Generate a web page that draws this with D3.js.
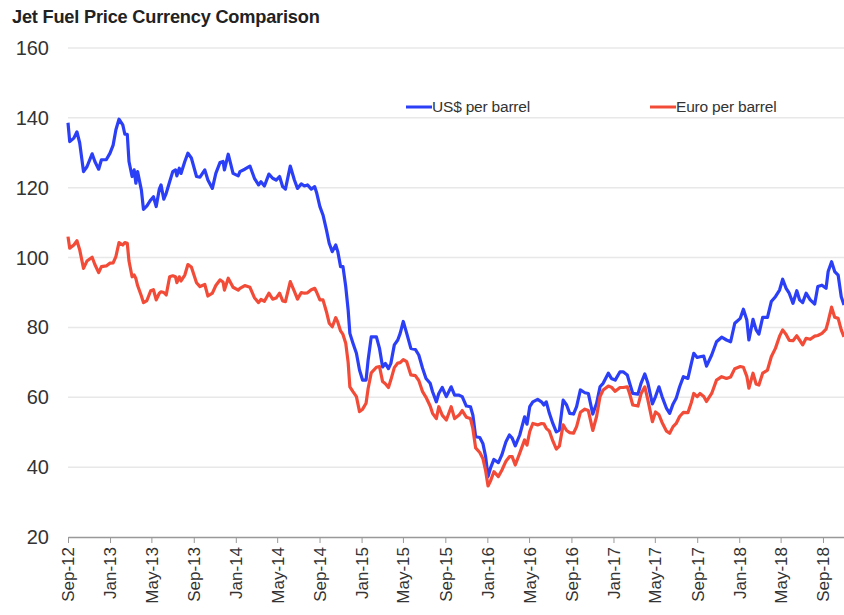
<!DOCTYPE html>
<html><head><meta charset="utf-8">
<script src="https://cdn.jsdelivr.net/npm/d3@7"></script>
<style>
body{margin:0;background:#fff;}
svg{display:block;font-family:"Liberation Sans",Arial,sans-serif;}
</style></head>
<body><svg id="chart" width="844" height="615"></svg>
<script>
const title = "Jet Fuel Price Currency Comparison";
const seriesNames = ["US$ per barrel", "Euro per barrel"];
const yTicks = [20, 40, 60, 80, 100, 120, 140, 160];
const dates = [
"2012-09-01","2012-09-06","2012-09-18","2012-09-27","2012-10-05","2012-10-16","2012-10-26","2012-11-10","2012-11-18","2012-11-29",
"2012-12-07","2012-12-21","2013-01-01","2013-01-10","2013-01-18","2013-01-27","2013-02-07","2013-02-13","2013-02-20","2013-02-25",
"2013-03-06","2013-03-12","2013-03-17","2013-03-22","2013-04-02","2013-04-08","2013-04-18","2013-04-29","2013-05-07","2013-05-15",
"2013-05-24","2013-05-29","2013-06-06","2013-06-13","2013-06-23","2013-07-02","2013-07-10","2013-07-14","2013-07-21","2013-07-26",
"2013-08-06","2013-08-15","2013-08-25","2013-09-09","2013-09-19","2013-10-03","2013-10-12","2013-10-25","2013-11-04","2013-11-16",
"2013-11-25","2013-11-29","2013-12-10","2013-12-24","2014-01-08","2014-01-13","2014-01-27","2014-02-11","2014-02-24","2014-03-08",
"2014-03-15","2014-03-25","2014-04-07","2014-04-18","2014-04-28","2014-05-08","2014-05-17","2014-05-25","2014-06-08","2014-06-20",
"2014-06-29","2014-07-10","2014-07-19","2014-07-28","2014-08-08","2014-08-18","2014-08-24","2014-09-02","2014-09-11","2014-09-21",
"2014-09-29","2014-10-08","2014-10-18","2014-10-24","2014-11-01","2014-11-08","2014-11-16","2014-11-23","2014-11-28","2014-12-07",
"2014-12-17","2014-12-26","2015-01-04","2015-01-14","2015-01-20","2015-01-29","2015-02-13","2015-02-22","2015-03-03","2015-03-11",
"2015-03-20","2015-03-27","2015-04-06","2015-04-16","2015-04-23","2015-05-02","2015-05-12","2015-05-24","2015-06-06","2015-06-16",
"2015-06-27","2015-07-07","2015-07-19","2015-07-26","2015-08-06","2015-08-13","2015-08-23","2015-09-04","2015-09-18","2015-09-28",
"2015-10-11","2015-10-20","2015-11-01","2015-11-13","2015-11-20","2015-11-28","2015-12-10","2015-12-19","2015-12-27","2016-01-03",
"2016-01-10","2016-01-20","2016-02-02","2016-02-12","2016-02-24","2016-03-05","2016-03-13","2016-03-22","2016-04-04","2016-04-18",
"2016-04-25","2016-05-03","2016-05-12","2016-05-26","2016-06-06","2016-06-13","2016-06-20","2016-06-29","2016-07-09","2016-07-19",
"2016-07-28","2016-08-08","2016-08-18","2016-08-27","2016-09-07","2016-09-16","2016-09-27","2016-10-10","2016-10-20","2016-11-02",
"2016-11-13","2016-11-23","2016-12-02","2016-12-17","2016-12-26","2017-01-06","2017-01-20","2017-01-29","2017-02-10","2017-02-17",
"2017-02-26","2017-03-13","2017-03-22","2017-04-02","2017-04-11","2017-04-24","2017-05-03","2017-05-13","2017-05-22","2017-06-04",
"2017-06-13","2017-06-23","2017-07-02","2017-07-12","2017-07-23","2017-08-05","2017-08-15","2017-08-22","2017-09-01","2017-09-09",
"2017-09-20","2017-09-28","2017-10-13","2017-10-27","2017-11-11","2017-11-25","2017-12-07","2017-12-19","2018-01-04","2018-01-13",
"2018-01-23","2018-01-29","2018-02-10","2018-02-19","2018-02-27","2018-03-10","2018-03-24","2018-04-04","2018-04-16","2018-04-28",
"2018-05-07","2018-05-17","2018-05-26","2018-06-06","2018-06-17","2018-06-25","2018-07-04","2018-07-14","2018-07-26","2018-08-08",
"2018-08-17","2018-08-29","2018-09-10","2018-09-16","2018-09-26","2018-10-05","2018-10-15","2018-10-24","2018-11-01"
];
const usd = [
138.6,133.2,134.2,136,132.8,124.6,126,129.7,127.5,125.3,
128,128,129.9,132.2,136.6,139.6,138,135.3,135.3,127.5,
123.2,125.1,121.3,124.6,119.3,113.8,114.8,116.5,117.4,114.6,
119.6,120.8,116.7,118.4,121.7,124.6,125.1,123.4,125.6,124.1,
127.5,129.9,128.5,123.2,123,125.1,122.2,119.8,124.1,127.2,
127.5,125.1,129.6,124.1,123.4,124.6,125.3,126.2,122.7,120.8,
121.7,120.5,123.9,122.7,122.2,123.2,120.3,119.6,126.2,122.2,
119.8,121.1,120.5,120.8,119.6,120.3,118.4,114.6,112.2,107.9,
104.1,101.7,103.6,101.7,97.4,97.4,91.7,85,78.3,75.5,
72.6,67.8,64.9,64.9,70.7,77.3,77.3,74,68.7,69.7,
68.2,69.7,75,76.4,78.3,81.7,78.3,74,73.7,72.1,
68.3,65.4,64,61.6,58.7,61.1,62.8,60.2,63,60.6,
60.6,60.2,57.5,57.3,54.9,48.7,48.5,46.8,43,37.3,
39.7,42.2,41.3,43.5,47.3,49.2,48.3,46.1,49.2,54.4,
52.3,57.3,58.7,59.4,58.7,57.8,58.7,55.4,52.5,50.1,
50.6,59.2,57.8,55.4,55.2,57.3,62.1,61.3,61.1,55.2,
58.3,63,64,66.9,65.4,64.9,67.3,67.3,66.4,64,
61.1,60.9,64,66.7,64,58.1,60.2,63,60.2,56.8,
55.4,58.1,59.7,63,65.9,65.4,69.7,72.6,71.4,71.6,
71.8,68.9,72.1,75.9,77.2,76.4,75.9,81.2,82.6,85.2,
82.1,76.4,82.3,79.3,78.1,82.9,82.9,87.4,88.8,90.7,
93.8,91.2,89.8,86.9,90.5,87.9,87.1,89.8,87.9,86.7,
91.7,92.1,91.2,96,98.8,96,95,88.8,86.4
];
const eur = [
106,102.7,103.6,104.8,102.2,96.9,99,100.1,98,95.7,
97.4,97.6,98.4,98.5,100.3,104.3,103.6,104.3,104.1,99,
94.5,95,94,92,89,87.1,87.7,90.5,90.8,87.9,
89.8,90.2,90,89.3,94.5,94.8,94.5,92.8,94.5,93.3,
95,98,97.3,92.8,91.7,92.3,89,89.8,92,93.6,
93,90.7,94.1,91.5,90.7,91.2,92,91.5,88.5,87.1,
88,87.5,89.8,88.1,88.4,89.8,87.6,87.4,93.1,90.3,
88.1,90,89.8,89.9,90.8,91.2,90,87.9,87.9,84.5,
81.2,80.2,82.8,81.5,79,78,75.5,70,63,61.6,
60.2,55.9,56.6,58.3,62.5,67,68.6,68.8,64.5,63.9,
62.8,65,68.5,69.8,69.9,70.8,70.2,66.4,66.2,64.8,
61.6,60,57.5,55.4,53.9,57.3,54.9,53.5,57.3,53.9,
54.9,56.2,54.3,53.9,51,45.5,44.2,42.5,39,34.6,
36,38.7,37.3,39.1,41.7,43,43,40.6,44,47.8,
46.3,50.2,52.5,52.1,52.5,52.4,51.1,50.3,47.5,45.2,
46,52.1,50.5,49.9,49.7,51.6,55.7,56.6,56.2,50.5,
54.5,60.2,62.1,63.2,62.9,61.7,62.8,62.8,63,61,
57.8,57.5,61,63,59.2,53,55.8,55,52.8,50.3,
49.7,51.6,52.5,54.5,55.7,55.6,58.5,61.1,60.2,61.1,
60.2,58.8,61.1,64.9,65.9,65.4,65.8,68.2,68.8,68.6,
66,62.6,66.9,63.8,63.5,66.9,67.8,71.6,74,77.5,
79.3,78,76.3,76.2,77.6,76.4,75,76.9,76.6,77.5,
77.7,78.3,79.5,81.7,85.8,82.9,82.6,79.3,77.3
];
const colors = ["#2b3ff6", "#f24c38"];

const svg = d3.select("#chart");
const parse = d3.timeParse("%Y-%m-%d");
const dts = dates.map(parse);
const plotLeft = 68, plotRight = 844, plotTop = 48, plotBottom = 537;

const x = d3.scaleTime().domain([parse("2012-09-01"), parse("2018-11-01")]).range([plotLeft, plotRight]);
const y = d3.scaleLinear().domain([20, 160]).range([plotBottom, plotTop]);

// title
svg.append("text").attr("x", 12).attr("y", 23).text(title)
  .attr("font-size", 18.2).attr("font-weight", "bold").attr("fill", "#222")
  .attr("letter-spacing", "-0.2");

// gridlines
svg.append("g").selectAll("line").data(yTicks.filter(d => d > 20)).join("line")
  .attr("x1", plotLeft).attr("x2", plotRight).attr("y1", d => y(d)).attr("y2", d => y(d))
  .attr("stroke", "#e8e8e8").attr("stroke-width", 1.5);

// y labels
svg.append("g").selectAll("text").data(yTicks).join("text")
  .attr("x", 49).attr("y", d => y(d)).attr("dy", "0.35em").attr("text-anchor", "end")
  .attr("font-size", 20).attr("fill", "#333").text(d => d);

// x axis
const xAxis = d3.axisBottom(x).ticks(d3.timeMonth.every(4)).tickFormat(d3.timeFormat("%b-%y")).tickSize(6).tickSizeOuter(0);
const gx = svg.append("g").attr("transform", `translate(0,${plotBottom})`).call(xAxis);
gx.select(".domain").attr("stroke", "#999").attr("stroke-width", 1.5);
gx.selectAll(".tick line").attr("stroke", "#999");
gx.selectAll(".tick text")
  .attr("font-size", 17).attr("fill", "#333").attr("font-family", "Liberation Sans, Arial, sans-serif")
  .attr("text-anchor", "end").attr("transform", "rotate(-90)")
  .attr("x", -10).attr("y", 0).attr("dy", "0.35em");

// lines
const line = d3.line().x((d, i) => x(dts[i])).y(d => y(d)).curve(d3.curveLinear);
[usd, eur].forEach((s, k) => {
  svg.append("path").datum(s).attr("d", line).attr("fill", "none")
    .attr("stroke", colors[k]).attr("stroke-width", 3.2).attr("stroke-linejoin", "round");
});

// legend
const legX = [406, 650];
seriesNames.forEach((n, k) => {
  const g = svg.append("g").attr("transform", `translate(${legX[k]},107)`);
  g.append("line").attr("x1", 0).attr("x2", 26).attr("y1", 0).attr("y2", 0)
    .attr("stroke", colors[k]).attr("stroke-width", 3);
  g.append("text").attr("x", 26).attr("y", 0).attr("dy", "0.35em").text(n)
    .attr("font-size", 15.5).attr("fill", "#333").attr("letter-spacing", "-0.2");
});
</script>
</body></html>
